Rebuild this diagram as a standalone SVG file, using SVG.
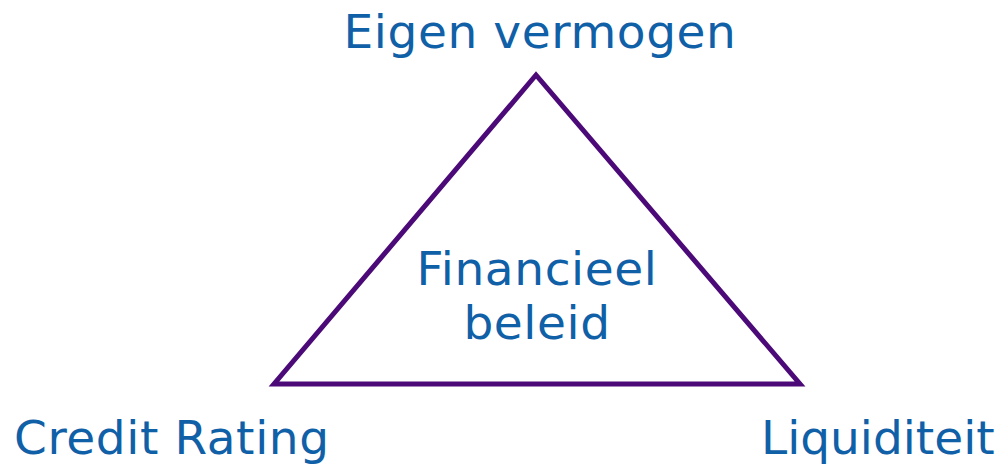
<svg xmlns="http://www.w3.org/2000/svg" width="1003" height="464" viewBox="0 0 1003 464">
<style>
.t{font-family:"DejaVu Sans",Verdana,sans-serif;font-size:47px;fill:#1060A8;letter-spacing:0.6px}
.tri{fill:none;stroke:#4B0A78;stroke-width:5;stroke-linejoin:miter}
</style>
<rect width="1003" height="464" fill="#FFFFFF"/>
<g id="connectors">
<polygon class="tri" points="536,75 274,384 800,384"/>
</g>
<g id="center"><text class="t" x="537" y="285" text-anchor="middle">Financieel</text><text class="t" x="537" y="339" text-anchor="middle">beleid</text></g>
<g id="top"><text class="t" x="540" y="48" text-anchor="middle">Eigen vermogen</text></g>
<g id="left"><text class="t" x="14" y="454">Credit Rating</text></g>
<g id="right"><text class="t" x="761" y="454" style="letter-spacing:0">Liquiditeit</text></g>
</svg>
